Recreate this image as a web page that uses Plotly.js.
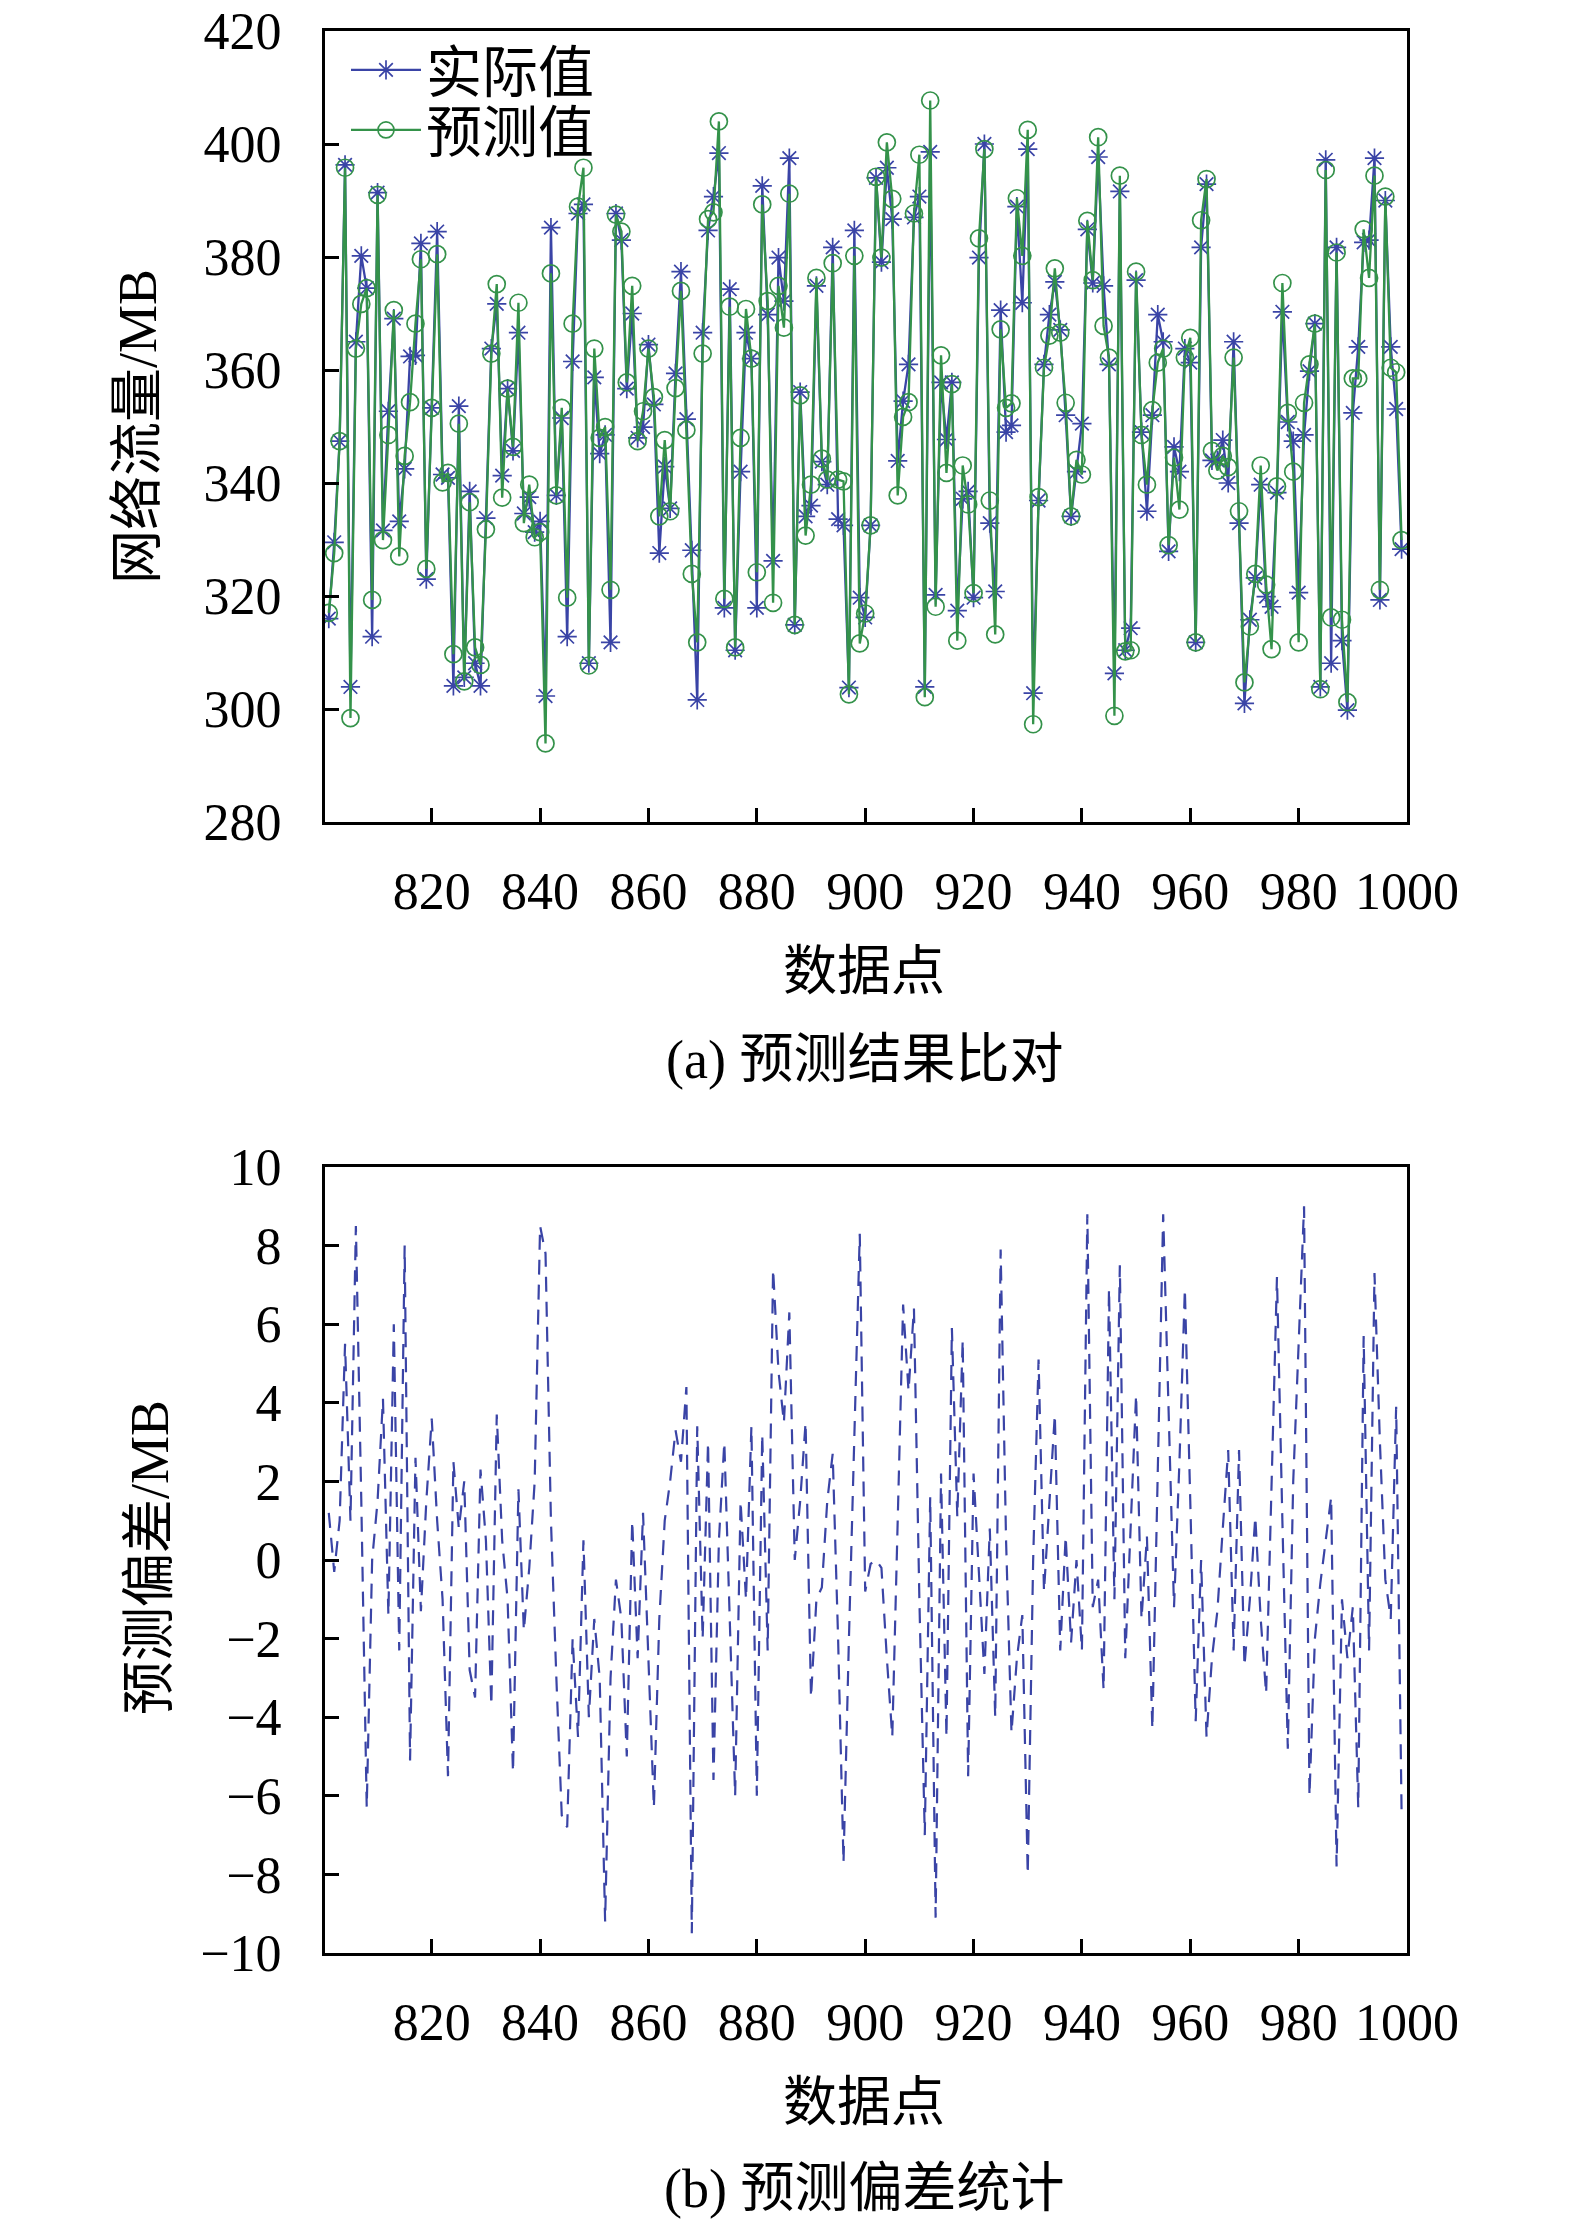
<!DOCTYPE html>
<html>
<head>
<meta charset="utf-8">
<script src="https://cdn.plot.ly/plotly-3.0.1.min.js"></script>
<style>
  body { margin: 0; background: #fff; }
  #chart { width: 1575px; height: 2234px; }
</style>
</head>
<body>
<div id="chart"></div>
<script>
// data points 801..999
const firstPoint = 801;

// (a) actual traffic, MB
const actual = [
  316.0, 329.5, 347.4, 396.3, 303.9, 365.0, 380.2, 374.5, 312.8, 391.4,
  331.6, 352.7, 369.1, 333.2, 342.5, 362.4, 362.6, 382.4, 323.0, 353.3,
  384.5, 341.5, 340.9, 304.1, 353.6, 305.6, 338.5, 308.1, 304.1, 333.8,
  363.8, 371.7, 341.3, 356.7, 345.7, 366.6, 334.6, 337.5, 331.3, 333.2,
  302.3, 385.2, 337.8, 351.5, 312.8, 361.5, 387.7, 389.3, 308.1, 358.7,
  345.2, 348.5, 311.8, 387.7, 383.0, 356.7, 370.0, 348.0, 349.9, 364.5,
  353.9, 327.6, 342.9, 335.5, 359.4, 377.4, 351.3, 328.1, 301.6, 366.6,
  384.7, 390.7, 398.4, 317.9, 374.3, 310.4, 342.0, 366.6, 362.0, 317.9,
  392.6, 369.8, 326.2, 379.9, 372.2, 397.5, 314.9, 356.1, 334.1, 336.0,
  374.9, 343.8, 339.7, 381.7, 333.6, 332.5, 303.8, 384.7, 319.7, 316.2,
  332.5, 394.0, 379.1, 395.8, 386.7, 343.9, 354.5, 361.0, 387.0, 390.7,
  303.9, 398.6, 320.2, 357.8, 347.7, 357.8, 317.4, 337.2, 338.5, 319.7,
  379.9, 400.0, 332.9, 320.8, 370.6, 349.0, 350.2, 388.9, 371.9, 399.1,
  302.8, 336.9, 361.0, 369.8, 375.6, 367.1, 352.0, 334.1, 342.0, 350.5,
  384.9, 375.4, 397.7, 374.9, 361.0, 306.3, 391.6, 310.4, 314.3, 375.9,
  349.0, 335.0, 352.0, 369.8, 365.0, 327.9, 346.4, 342.0, 363.8, 361.3,
  311.8, 381.7, 392.9, 344.0, 344.0, 347.6, 340.0, 365.0, 332.9, 301.0,
  315.8, 323.2, 339.7, 319.9, 318.1, 338.3, 370.3, 350.8, 347.4, 320.6,
  348.5, 359.8, 368.2, 303.9, 397.2, 308.1, 381.7, 312.1, 299.8, 352.4,
  364.1, 382.6, 383.0, 397.5, 319.3, 390.0, 364.1, 353.1, 328.3
];

// (a) predicted traffic, MB
const predicted = [
  317.0, 327.6, 347.4, 395.8, 298.4, 363.8, 371.7, 374.5, 319.3, 391.0,
  329.9, 348.5, 370.6, 327.0, 344.8, 354.3, 368.2, 379.6, 324.8, 353.3,
  380.5, 340.1, 341.8, 309.7, 350.5, 304.9, 336.6, 310.9, 307.8, 331.8,
  362.9, 375.2, 337.4, 356.7, 346.4, 371.9, 332.9, 339.7, 330.4, 331.3,
  293.9, 377.1, 337.8, 353.3, 319.7, 368.2, 388.9, 395.8, 307.7, 363.8,
  348.0, 349.9, 321.1, 387.5, 384.5, 357.8, 374.9, 347.4, 352.7, 363.8,
  355.2, 334.1, 347.6, 335.0, 356.8, 374.0, 349.4, 323.9, 311.8, 362.9,
  386.7, 387.9, 404.0, 319.5, 371.2, 310.9, 348.0, 370.8, 362.0, 324.2,
  389.3, 372.2, 318.8, 374.9, 367.5, 391.2, 314.9, 355.5, 330.7, 339.7,
  376.3, 344.3, 340.6, 378.9, 340.6, 340.3, 302.6, 380.2, 311.6, 316.9,
  332.5, 394.2, 379.9, 400.3, 390.3, 337.8, 351.7, 354.3, 387.7, 398.1,
  302.1, 407.7, 318.1, 362.6, 341.8, 357.5, 312.1, 343.1, 336.2, 320.5,
  383.3, 399.1, 336.9, 313.2, 367.2, 353.3, 354.1, 390.4, 380.2, 402.5,
  297.3, 337.5, 360.4, 366.1, 378.0, 366.6, 354.2, 334.1, 344.1, 341.5,
  386.4, 375.9, 401.2, 367.8, 362.2, 298.8, 394.4, 310.2, 310.4, 377.4,
  348.5, 339.7, 352.9, 361.3, 363.8, 329.0, 344.5, 335.3, 362.2, 365.7,
  311.8, 386.5, 393.8, 345.7, 342.2, 344.8, 342.8, 362.2, 335.0, 304.7,
  314.6, 323.9, 343.1, 322.0, 310.6, 339.4, 375.4, 352.4, 342.0, 311.8,
  354.2, 361.0, 368.2, 303.5, 395.4, 316.2, 380.8, 315.8, 301.2, 358.5,
  358.5, 384.9, 376.3, 394.4, 321.1, 390.7, 360.4, 359.6, 329.9
];

// (b) prediction deviation, MB
const deviation = [
  1.2, -0.3, 1.0, 5.5, 1.0, 8.5, 1.5, -6.3, 0.0, 1.5,
  4.1, -1.4, 6.0, -2.3, 8.0, -5.1, 2.6, -1.3, 1.5, 3.6,
  1.0, -1.0, -5.5, 2.5, 0.8, 2.0, -2.8, -3.5, 2.3, 0.5,
  -3.7, 3.7, 0.5, -1.0, -5.4, 1.8, -1.8, -0.2, 2.0, 8.5,
  7.8, 1.0, -3.0, -6.5, -6.8, -2.0, -4.5, 0.5, -4.0, -1.5,
  -3.0, -9.2, -3.0, -0.5, -1.5, -5.0, 1.0, -2.5, 1.2, -2.5,
  -6.3, -1.5, 1.0, 2.0, 3.3, 2.5, 4.4, -9.5, 3.4, -2.0,
  3.0, -5.6, 0.5, 3.0, -1.5, -6.0, 1.5, -1.0, 3.4, -6.0,
  3.2, -2.3, 7.4, 4.8, 3.5, 6.3, 0.0, 1.5, 3.5, -3.5,
  -1.0, -0.7, 1.5, 2.7, -2.0, -7.7, -2.0, 3.0, 8.3, -0.8,
  -0.1, 0.0, -0.2, -2.5, -4.5, 1.0, 6.5, 4.3, 6.4, -1.0,
  -7.0, 1.6, -9.1, 2.2, -4.5, 5.9, 1.1, 5.6, -5.5, 2.2,
  -0.5, -2.9, 0.8, -4.0, 7.9, 0.5, -4.4, -2.5, -1.4, -8.0,
  0.0, 5.1, -0.8, 1.5, 3.7, -2.3, 0.6, -2.1, 0.0, -2.3,
  8.8, -1.2, -0.5, -3.3, 6.9, -1.0, 7.5, -2.5, 1.0, 4.2,
  -1.5, 0.6, -4.3, 2.0, 8.8, 3.8, -1.2, 2.5, 6.9, 1.5,
  -4.1, 0.0, -4.5, -2.5, -1.3, 0.8, 2.8, -2.3, 2.8, -2.7,
  -1.0, 1.1, -1.5, -3.4, 2.0, 7.2, 1.0, -4.8, 2.0, 5.5,
  9.0, -6.0, -2.0, -0.6, 0.5, 1.6, -7.8, -1.0, -2.5, -1.2,
  -6.3, 5.7, -2.3, 7.3, 3.0, -0.5, -1.5, 3.9, -6.4
];

const xTicks = [820, 840, 860, 880, 900, 920, 940, 960, 980, 1000];
const yTicksTop = [280, 300, 320, 340, 360, 380, 400, 420];
const yTicksBottom = [-10, -8, -6, -4, -2, 0, 2, 4, 6, 8, 10];

const points = actual.map((_, i) => firstPoint + i);

// page geometry (px)
const W = 1575, H = 2234;
const L = 325, R = 1407;
const topT = 31, topB = 822;
const botT = 1167, botB = 1953;
const plotW = R - L, plotH = botB - topT;
const px = (x) => (x - L) / plotW;
const py = (y) => (botB - y) / plotH;

const blue = "#3a44a6";
const green = "#34924a";
const FONT = "'Liberation Serif', 'Noto Sans CJK SC', serif";

const traces = [
  {
    x: points, y: actual, name: "实际值", type: "scatter", mode: "lines+markers",
    line: { color: blue, width: 2.3 },
    marker: { symbol: "asterisk-open", size: 16, line: { color: blue, width: 1.7 } },
    xaxis: "x", yaxis: "y", legend: "legend"
  },
  {
    x: points, y: predicted, name: "预测值", type: "scatter", mode: "lines+markers",
    line: { color: green, width: 2.3 },
    marker: { symbol: "circle-open", size: 17, color: green, line: { color: green, width: 1.7 } },
    xaxis: "x", yaxis: "y", legend: "legend2"
  },
  {
    x: points, y: deviation, name: "预测偏差", type: "scatter", mode: "lines",
    line: { color: blue, width: 2.2, dash: "15px,10px" },
    xaxis: "x2", yaxis: "y2", showlegend: false
  }
];

const axisBase = {
  showline: true, linecolor: "#000", linewidth: 3, mirror: true,
  ticks: "inside", ticklen: 14, tickwidth: 3, tickcolor: "#000",
  showgrid: false, zeroline: false,
  tickfont: { family: FONT, size: 52, color: "#000" }
};

const xAxis = (anchor) => Object.assign({}, axisBase, {
  anchor: anchor, range: [800.3, 1000], tickvals: xTicks,
  ticklabelstandoff: 22
});

const annFont = { family: FONT, size: 54, color: "#000" };
const ann = (text, x, y, angle) => ({
  text: text, xref: "paper", yref: "paper", x: px(x), y: py(y),
  xanchor: "center", yanchor: "middle", showarrow: false,
  textangle: angle || 0, font: annFont
});

const legendRow = (yc) => ({
  x: px(346), y: py(yc), xanchor: "left", yanchor: "middle",
  bgcolor: "rgba(0,0,0,0)", borderwidth: 0,
  font: { family: FONT, size: 56, color: "#000" },
  itemwidth: 70
});

const layout = {
  width: W, height: H,
  margin: { l: L, r: W - R, t: topT, b: H - botB },
  paper_bgcolor: "#fff", plot_bgcolor: "#fff",
  xaxis: xAxis("y"),
  yaxis: Object.assign({}, axisBase, {
    domain: [py(topB), 1], range: [280, 420], tickvals: yTicksTop,
    ticklabelstandoff: 30
  }),
  xaxis2: xAxis("y2"),
  yaxis2: Object.assign({}, axisBase, {
    domain: [0, py(botT)], range: [-10, 10], tickvals: yTicksBottom,
    ticklabelstandoff: 30
  }),
  showlegend: true,
  legend: legendRow(70),
  legend2: legendRow(130),
  annotations: [
    ann("数据点", 864, 972),
    ann("(a) 预测结果比对", 864, 1060),
    ann("网络流量/MB", 138, 427, -90),
    ann("数据点", 864, 2103),
    ann("(b) 预测偏差统计", 864, 2189),
    ann("预测偏差/MB", 150, 1558, -90)
  ]
};

Plotly.newPlot("chart", traces, layout, { displayModeBar: false, staticPlot: true });
</script>
</body>
</html>
